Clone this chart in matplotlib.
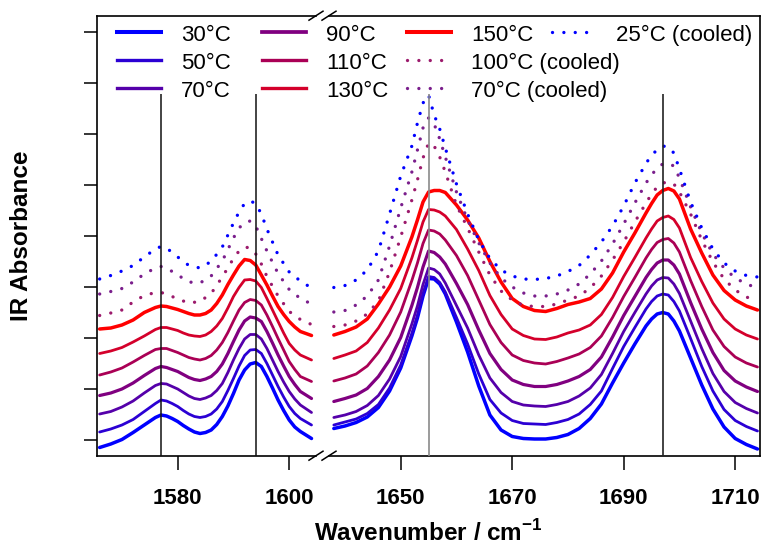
import numpy as np
import matplotlib
matplotlib.use("Agg")
import matplotlib.pyplot as plt
from matplotlib.lines import Line2D

plt.rcParams["font.family"] = ["Liberation Sans", "DejaVu Sans"]
plt.rcParams["mathtext.fontset"] = "custom"
plt.rcParams["mathtext.rm"] = "Liberation Sans"
plt.rcParams["mathtext.bf"] = "Liberation Sans:bold"

# ---------------------------------------------------------------------------
# Wavenumber grids (cm^-1) of the two spectral windows
# ---------------------------------------------------------------------------
wn_low_heat = np.array([1566, 1568, 1570, 1572, 1574, 1576, 1577, 1578, 1579,
                        1580, 1581, 1582, 1583, 1584, 1585, 1586, 1587, 1588,
                        1589, 1590, 1591, 1592, 1593, 1594, 1595, 1596, 1597,
                        1598, 1599, 1600, 1601, 1602, 1604])
wn_low_cool = np.array([1566, 1568, 1570, 1572, 1574, 1576, 1577, 1578, 1580,
                        1582, 1584, 1586, 1588, 1590, 1591, 1592, 1593, 1594,
                        1595, 1596, 1598, 1600, 1602, 1604])
wn_high = np.array([1638, 1640, 1642, 1644, 1646, 1648, 1650, 1652, 1653, 1654,
                    1655, 1656, 1657, 1658, 1660, 1662, 1664, 1666, 1668, 1670,
                    1672, 1674, 1676, 1678, 1680, 1682, 1684, 1686, 1688, 1690,
                    1692, 1694, 1695, 1696, 1697, 1698, 1699, 1700, 1702, 1704,
                    1706, 1708, 1710, 1712, 1714])

# ---------------------------------------------------------------------------
# Offset absorbance (mOD) - heating series
# ---------------------------------------------------------------------------
a30_low = [-15, -8, 1, 15, 30, 45, 50, 48, 43, 37, 29, 22, 16, 13, 15, 20, 31,
           47, 68, 93, 120, 140, 152, 155, 147, 127, 104, 80, 59, 40, 26, 17,
           3]
a30_high = [23, 28, 35, 46, 65, 98, 144, 208, 244, 288, 323, 322, 312, 292,
            236, 176, 108, 50, 20, 7, 3, 2, 2, 5, 11, 23, 43, 72, 114, 154,
            192, 228, 242, 252, 255, 252, 238, 218, 164, 110, 62, 26, 3, -9,
            -18]

a50_low = [16, 22, 30, 41, 57, 73, 80, 78, 73, 67, 59, 52, 47, 45, 47, 52, 62,
           77, 99, 123, 148, 169, 180, 181, 173, 153, 130, 107, 86, 67, 53, 43,
           30]
a50_high = [30, 36, 42, 53, 71, 104, 150, 213, 249, 293, 327, 325, 315, 296,
            245, 192, 132, 81, 54, 39, 33, 32, 31, 35, 41, 52, 71, 98, 143,
            187, 225, 262, 277, 288, 292, 290, 277, 258, 203, 147, 98, 61, 39,
            27, 18]

a70_low = [52, 57, 66, 78, 94, 109, 113, 112, 107, 102, 95, 88, 83, 81, 84, 89,
           99, 113, 135, 160, 183, 202, 211, 211, 202, 183, 160, 137, 116, 97,
           82, 70, 55]
a70_high = [45, 50, 57, 69, 89, 122, 167, 232, 268, 311, 344, 341, 332, 314,
            269, 224, 170, 124, 95, 77, 70, 68, 67, 71, 77, 88, 104, 131, 173,
            217, 255, 292, 308, 320, 325, 324, 312, 293, 238, 183, 133, 97,
            75, 63, 54]

a90_low = [89, 94, 102, 114, 129, 143, 147, 145, 141, 137, 131, 125, 121, 119,
           122, 127, 137, 152, 173, 197, 220, 238, 246, 244, 237, 217, 194,
           170, 148, 127, 111, 97, 83]
a90_high = [77, 83, 90, 103, 127, 160, 205, 269, 305, 346, 378, 375, 366, 352,
            313, 271, 220, 173, 141, 120, 111, 107, 107, 111, 118, 127, 141,
            166, 206, 249, 287, 325, 341, 354, 360, 360, 350, 332, 275, 222,
            175, 139, 118, 106, 97]

a110_low = [130, 136, 144, 156, 169, 181, 183, 183, 179, 175, 170, 165, 162,
            160, 163, 169, 180, 195, 215, 238, 260, 275, 281, 279, 270, 250,
            227, 203, 180, 157, 141, 127, 117]
a110_high = [118, 124, 132, 148, 175, 210, 256, 319, 354, 393, 420, 418, 412,
             400, 369, 329, 280, 231, 195, 170, 159, 154, 152, 157, 164, 172,
             185, 208, 245, 287, 325, 364, 381, 395, 401, 403, 394, 376, 319,
             267, 220, 187, 166, 154, 146]

a130_low = [173, 178, 185, 196, 208, 221, 225, 225, 222, 219, 214, 210, 208,
            207, 210, 217, 228, 243, 264, 287, 305, 320, 321, 318, 305, 283,
            260, 237, 214, 193, 180, 170, 160]
a130_high = [163, 170, 178, 195, 224, 260, 303, 364, 399, 436, 461, 460, 456,
             448, 421, 382, 339, 289, 251, 222, 209, 202, 201, 206, 214, 220,
             230, 251, 285, 327, 365, 404, 422, 438, 445, 448, 441, 424, 365,
             317, 274, 242, 222, 210, 202]

a150_low = [222, 224, 230, 240, 255, 265, 268, 267, 264, 261, 257, 253, 250,
            250, 253, 260, 273, 290, 311, 330, 348, 361, 359, 350, 330, 310,
            288, 267, 251, 237, 226, 217, 209]
a150_high = [210, 217, 226, 242, 272, 306, 348, 406, 440, 476, 496, 499, 499,
             495, 470, 440, 404, 357, 316, 283, 267, 259, 257, 263, 271, 276,
             283, 302, 334, 376, 414, 454, 473, 490, 499, 503, 498, 482, 422,
             374, 330, 299, 280, 268, 260]

# ---------------------------------------------------------------------------
# Offset absorbance (mOD) - cooling series
# ---------------------------------------------------------------------------
c100_low = [249, 254, 260, 276, 289, 295, 295, 292, 282, 274, 277, 293, 326,
            363, 378, 386, 384, 372, 352, 327, 288, 257, 241, 231]
c100_high = [227, 230, 238, 252, 278, 336, 406, 480, 520, 564, 594, 588, 566,
             536, 470, 424, 376, 330, 298, 280, 269, 267, 267, 272, 280, 288,
             304, 328, 360, 396, 436, 474, 492, 506, 514, 516, 512, 496, 452,
             400, 356, 322, 300, 286, 278]

c70_low = [292, 297, 303, 316, 332, 344, 347, 344, 330, 316, 314, 328, 358,
           404, 424, 435, 438, 428, 403, 378, 333, 301, 283, 272]
c70_high = [256, 259, 270, 288, 320, 388, 464, 536, 580, 624, 644, 632, 602,
            566, 496, 440, 394, 354, 324, 306, 294, 288, 288, 292, 300, 312,
            332, 358, 392, 432, 474, 514, 530, 544, 552, 553, 548, 524, 466,
            414, 372, 344, 324, 312, 304]

c25_low = [322, 329, 338, 349, 366, 382, 387, 384, 366, 349, 344, 357, 386,
           434, 456, 473, 478, 473, 452, 422, 370, 336, 318, 304]
c25_high = [305, 309, 320, 340, 378, 452, 528, 588, 634, 674, 690, 650, 622,
            584, 512, 452, 400, 363, 340, 328, 322, 321, 323, 328, 337, 349,
            370, 396, 428, 468, 514, 553, 570, 580, 588, 586, 574, 542, 476,
            424, 382, 354, 338, 329, 326]

# Band positions marked with vertical guide lines
bands_low = [1577, 1594]
bands_high = [1655, 1697]

# Tick positions / labels
xticks_low = [1580, 1600]
xticks_high = [1650, 1670, 1690, 1710]
yticks = np.arange(9) * 102

# Series: (label, low-window grid, low, high, colour, line width, dotted?)
series = [
    ("30°C", wn_low_heat, a30_low, a30_high, "#0000ff", 2.5, False),
    ("50°C", wn_low_heat, a50_low, a50_high, "#2b00d4", 2.0, False),
    ("70°C", wn_low_heat, a70_low, a70_high, "#5500aa", 2.0, False),
    ("90°C", wn_low_heat, a90_low, a90_high, "#800080", 2.3, False),
    ("110°C", wn_low_heat, a110_low, a110_high, "#aa0055", 2.0, False),
    ("130°C", wn_low_heat, a130_low, a130_high, "#d4002b", 2.0, False),
    ("150°C", wn_low_heat, a150_low, a150_high, "#ff0000", 2.5, False),
    ("100°C (cooled)", wn_low_cool, c100_low, c100_high, "#9c1a6c", 2.4, True),
    ("70°C (cooled)", wn_low_cool, c70_low, c70_high, "#7a1e8c", 2.4, True),
    ("25°C (cooled)", wn_low_cool, c25_low, c25_high, "#0000ff", 2.4, True),
]

DOTS = (0, (0.01, 3.4))

# ---------------------------------------------------------------------------
# Figure with a broken wavenumber axis
# ---------------------------------------------------------------------------
W, H = 763, 548
fig = plt.figure(figsize=(W / 100, H / 100), dpi=100)


def fx(px):
    return px / W


def fy(py):
    return 1 - py / H


ax_top, ax_bot = 15.7, 455.7
x_left, x_break, x_right = 96.7, 323.0, 760.0
ax_l = fig.add_axes([fx(x_left), fy(ax_bot), fx(x_break) - fx(x_left),
                     (ax_bot - ax_top) / H])
ax_r = fig.add_axes([fx(x_break), fy(ax_bot), fx(x_right) - fx(x_break),
                     (ax_bot - ax_top) / H])

xlim_l = (1565.47, 1606.06)
xlim_r = (1636.06, 1714.45)
ylim = (-31.4, 848.6)

for label, wl, lo, hi, col, lw, dotted in series:
    kw = dict(color=col, lw=lw, solid_capstyle="round",
              solid_joinstyle="round")
    if dotted:
        kw.update(linestyle=DOTS, dash_capstyle="round")
    ax_l.plot(wl, lo, **kw)
    ax_r.plot(wn_high, hi, **kw)

# Band guide lines
ax_l.vlines(bands_low, ylim[0], 692, colors=["#111111", "#111111"], lw=1.1,
            zorder=5)
ax_r.vlines(bands_high, ylim[0], 692, colors=["#8a8a8a", "#222222"], lw=1.2,
            zorder=5)

# Ticks
ax_l.set_xticks(xticks_low)
ax_l.set_xticklabels([str(t) for t in xticks_low], fontweight="bold")
ax_r.set_xticks(xticks_high)
ax_r.set_xticklabels([str(t) for t in xticks_high], fontweight="bold")
ax_l.set_yticks(yticks)
ax_l.set_yticklabels([])
ax_r.set_yticks([])

for ax, xl in ((ax_l, xlim_l), (ax_r, xlim_r)):
    ax.set_xlim(*xl)
    ax.set_ylim(*ylim)
    for sp in ax.spines.values():
        sp.set_linewidth(1.2)
    ax.tick_params(axis="x", which="major", direction="out", length=10.3,
                   width=1.1, labelsize=16, pad=13)
ax_l.tick_params(axis="y", which="major", direction="out", length=9.4,
                 width=1.1)

# Frame: open ends at the break
ax_l.spines["right"].set_visible(False)
ax_r.spines["left"].set_visible(False)
ax_l.spines["top"].set_bounds(xlim_l[0], 1604.8)
ax_l.spines["bottom"].set_bounds(xlim_l[0], 1604.8)
ax_r.spines["top"].set_bounds(1637.2, xlim_r[1])
ax_r.spines["bottom"].set_bounds(1637.2, xlim_r[1])

# Break marks (//) on top and bottom frame lines
for cy in (ax_top, ax_bot):
    for cx in (316.0, 329.0):
        fig.add_artist(Line2D([fx(cx - 7), fx(cx + 7)],
                              [fy(cy + 4.5), fy(cy - 4.5)],
                              color="black", lw=1.1))

# Axis titles
fig.text(fx(22), fy(235.7), "IR Absorbance", rotation=90, fontsize=17.5,
         fontweight="bold", ha="center", va="center")
fig.text(fx(428.3), fy(533), r"Wavenumber / cm$^{\mathbf{-1}}$",
         fontsize=17.5, fontweight="bold", ha="center", va="center")

# Legend (column-major, 3 rows)
row_y = [32.3, 60.0, 88.3]
col_x = [117.0, 262.0, 407.0, 552.0]
for i, (label, wl, lo, hi, col, lw, dotted) in enumerate(series):
    c, r = divmod(i, 3)
    x0, y0 = col_x[c], row_y[r]
    kw = dict(color=col, lw=lw + 0.4 if not dotted else lw)
    if dotted:
        kw.update(linestyle=DOTS, dash_capstyle="round")
    fig.add_artist(Line2D([fx(x0), fx(x0 + 44)], [fy(y0), fy(y0)], **kw))
    fig.text(fx(x0 + 64), fy(y0 + 9), label, fontsize=16, ha="left",
             va="baseline")

fig.savefig("out.png", dpi=100)
